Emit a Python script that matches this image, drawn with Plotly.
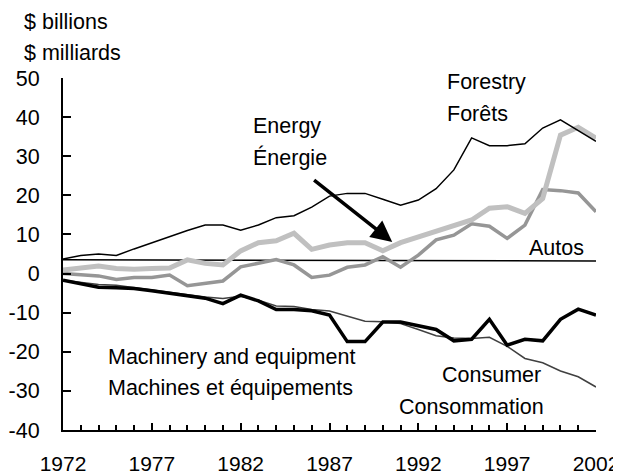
import plotly.graph_objects as go

years = list(range(1972, 2003))

forestry = [3.7, 4.6, 5.0, 4.6, 6.3, 7.9, 9.5, 11.0, 12.4, 12.4, 11.1, 12.4, 14.3, 14.8, 17.0,
            19.8, 20.5, 20.5, 19.0, 17.5, 18.8, 21.7, 26.5, 34.7, 32.7, 32.7, 33.2, 37.2, 39.3, 36.5, 33.8]
energy = [0.9, 1.4, 1.9, 1.3, 1.1, 1.3, 1.4, 3.5, 2.6, 2.2, 5.8, 7.9, 8.4, 10.3, 6.2,
          7.3, 7.9, 7.9, 5.8, 7.9, 9.3, 10.9, 12.4, 13.7, 16.7, 17.1, 15.4, 19.2, 35.4, 37.4, 34.6]
other = [0.0, -0.2, -0.6, -1.5, -1.0, -1.0, -0.4, -3.1, -2.5, -1.9, 1.7, 2.6, 3.6, 2.2, -1.0,
         -0.4, 1.6, 2.2, 4.3, 1.6, 4.7, 8.6, 9.8, 12.7, 12.1, 9.0, 12.4, 21.5, 21.2, 20.6, 15.8]
machinery = [-1.7, -2.5, -3.5, -3.6, -3.8, -4.4, -5.1, -5.6, -6.3, -7.7, -5.5, -7.0, -9.2, -9.2, -9.5,
             -10.6, -17.4, -17.4, -12.4, -12.4, -13.4, -14.3, -17.2, -16.8, -11.7, -18.3, -16.8, -17.2, -11.7, -9.1, -10.6]
consumer = [-1.7, -2.2, -2.8, -3.0, -3.6, -4.2, -4.8, -5.3, -6.0, -6.4, -5.8, -6.8, -8.3, -8.4, -9.2,
            -9.6, -10.8, -12.2, -12.3, -12.8, -14.3, -15.9, -16.5, -16.6, -16.3, -18.6, -21.7, -22.8, -24.9, -26.4, -29.0]
autos_years = [1972, 2002]
autos = [3.5, 3.2]

y_ticks = [-40, -30, -20, -10, 0, 10, 20, 30, 40, 50]
y_labels = ["-40", "-30", "-20", "-10", "0", "10", "20", "30", "40", "50"]
x_ticks = [1972, 1977, 1982, 1987, 1992, 1997, 2002]

FONT = "Liberation Sans, Arial, sans-serif"
FS = 21.5

fig = go.Figure()
fig.add_trace(go.Scatter(x=autos_years, y=autos, mode="lines", name="Autos",
                         line=dict(color="black", width=1.5)))
fig.add_trace(go.Scatter(x=years, y=other, mode="lines", name="Other",
                         line=dict(color="#969696", width=3.5)))
fig.add_trace(go.Scatter(x=years, y=energy, mode="lines", name="Energy",
                         line=dict(color="#c0c0c0", width=5)))
fig.add_trace(go.Scatter(x=years, y=forestry, mode="lines", name="Forestry",
                         line=dict(color="black", width=1.5)))
fig.add_trace(go.Scatter(x=years, y=consumer, mode="lines", name="Consumer",
                         line=dict(color="#404040", width=1.5)))
fig.add_trace(go.Scatter(x=years, y=machinery, mode="lines", name="Machinery",
                         line=dict(color="black", width=3.5)))

labels = [
    ("Energy", 1982.6, 37.7),
    ("Énergie", 1982.6, 29.6),
    ("Forestry", 1993.5, 49.0),
    ("Forêts", 1993.5, 40.8),
    ("Autos", 1998.1, 6.5),
    ("Machinery and equipment", 1974.4, -21.3),
    ("Machines et équipements", 1974.4, -29.3),
    ("Consumer", 1993.2, -26.0),
    ("Consommation", 1990.8, -34.0),
]
for txt, x, y in labels:
    fig.add_annotation(x=x, y=y, text=txt, showarrow=False, xanchor="left", yanchor="middle",
                       font=dict(size=FS, color="black", family=FONT))

fig.add_annotation(xref="paper", yref="paper", x=-0.077, y=1.159, text="$ billions",
                   showarrow=False, xanchor="left", yanchor="middle",
                   font=dict(size=FS, color="black", family=FONT))
fig.add_annotation(xref="paper", yref="paper", x=-0.077, y=1.071, text="$ milliards",
                   showarrow=False, xanchor="left", yanchor="middle",
                   font=dict(size=FS, color="black", family=FONT))

# energy arrow
fig.add_annotation(x=1990.53, y=8.1, ax=1986.05, ay=24.2, xref="x", yref="y", axref="x", ayref="y",
                   text="", showarrow=True, arrowhead=2, arrowsize=1.2, arrowwidth=3.5, arrowcolor="black")

# page body has an 8px margin, so the figure is sized/shifted to land on the same pixels
fig.update_layout(
    width=613, height=468,
    margin=dict(l=55, r=25, t=70, b=46),
    plot_bgcolor="white", paper_bgcolor="white",
    showlegend=False,
    font=dict(family=FONT, size=FS, color="black"),
)
fig.update_xaxes(
    range=[1972, 2002], tickmode="array", tickvals=x_ticks, automargin=False,
    tickfont=dict(size=21),
    showgrid=False, zeroline=False, showline=True, linecolor="black", linewidth=2,
    ticks="inside", ticklen=7, tickwidth=1.5, tickcolor="black", ticklabelstandoff=14,
    minor=dict(dtick=1, tick0=1972, ticks="inside", ticklen=5, tickwidth=1.5, tickcolor="black", showgrid=False),
)
fig.update_yaxes(
    range=[-40, 50], tickmode="array", tickvals=y_ticks, ticktext=y_labels, automargin=False,
    showgrid=False, zeroline=False, showline=True, linecolor="black", linewidth=2,
    ticks="inside", ticklen=8, tickwidth=2, tickcolor="black", ticklabelstandoff=17,
)

fig.write_html("out.html")
